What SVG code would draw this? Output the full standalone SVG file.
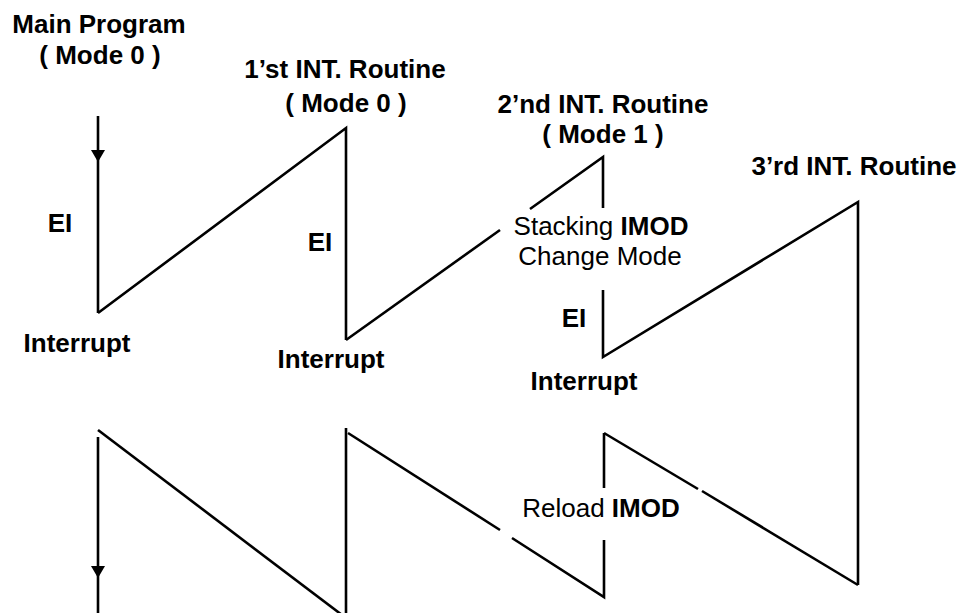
<svg xmlns="http://www.w3.org/2000/svg" width="970" height="613" viewBox="0 0 970 613">
<style>
  .ln { fill: none; stroke: #000; stroke-width: 2.6; stroke-linejoin: miter; }
  .b { font-family: "Liberation Sans", Arial, sans-serif; font-weight: bold; font-size: 26px; fill: #000; text-anchor: middle; }
  .n { font-family: "Liberation Sans", Arial, sans-serif; font-weight: normal; font-size: 26px; fill: #000; text-anchor: middle; }
  .head { fill: #000; }
</style>
<rect width="970" height="613" fill="#fff"/>

<g id="connectors">
  <!-- main program top with arrowhead -->
  <line class="ln" x1="98" y1="116" x2="98" y2="313"/>
  <polygon class="head" points="91,150 105,150 98,162"/>
  <!-- 1st routine ramp and return -->
  <polyline class="ln" points="98,313 346,128 346,340"/>
  <!-- 2nd routine ramp with gap for label -->
  <polyline class="ln" points="346,340 500,230"/>
  <polyline class="ln" points="530,209 603,157 603,208"/>
  <polyline class="ln" points="603,290 603,357 858,202 858,585"/>
  <!-- bottom: return path -->
  <line class="ln" x1="98" y1="437" x2="98" y2="613"/>
  <polygon class="head" points="91,566 105,566 98,578"/>
  <line class="ln" x1="98" y1="430" x2="346" y2="618"/>
  <line class="ln" x1="346" y1="428" x2="346" y2="613"/>
  <line class="ln" x1="348" y1="433" x2="500" y2="530"/>
  <polyline class="ln" points="512,538 604,597 604,540"/>
  <line class="ln" x1="604" y1="488" x2="604" y2="433"/>
  <line class="ln" x1="604" y1="433" x2="698" y2="489"/>
  <line class="ln" x1="702" y1="491" x2="858" y2="585"/>
</g>

<g id="main-program">
  <text class="b" x="99" y="33">Main Program</text>
  <text class="b" x="100" y="64">( Mode 0 )</text>
  <text class="b" x="60" y="232">EI</text>
  <text class="b" x="77" y="352">Interrupt</text>
</g>

<g id="int-routine-1">
  <text class="b" x="345" y="78">1’st INT. Routine</text>
  <text class="b" x="346" y="112">( Mode 0 )</text>
  <text class="b" x="320" y="251">EI</text>
  <text class="b" x="331" y="368">Interrupt</text>
</g>

<g id="int-routine-2">
  <text class="b" x="603" y="113">2’nd INT. Routine</text>
  <text class="b" x="603" y="143">( Mode 1 )</text>
  <text class="n" x="601" y="235">Stacking <tspan font-weight="bold">IMOD</tspan></text>
  <text class="n" x="600" y="265">Change Mode</text>
  <text class="b" x="574" y="327">EI</text>
  <text class="b" x="584" y="390">Interrupt</text>
  <text class="n" x="601" y="517">Reload <tspan font-weight="bold">IMOD</tspan></text>
</g>

<g id="int-routine-3">
  <text class="b" x="854" y="175">3’rd INT. Routine</text>
</g>
</svg>
